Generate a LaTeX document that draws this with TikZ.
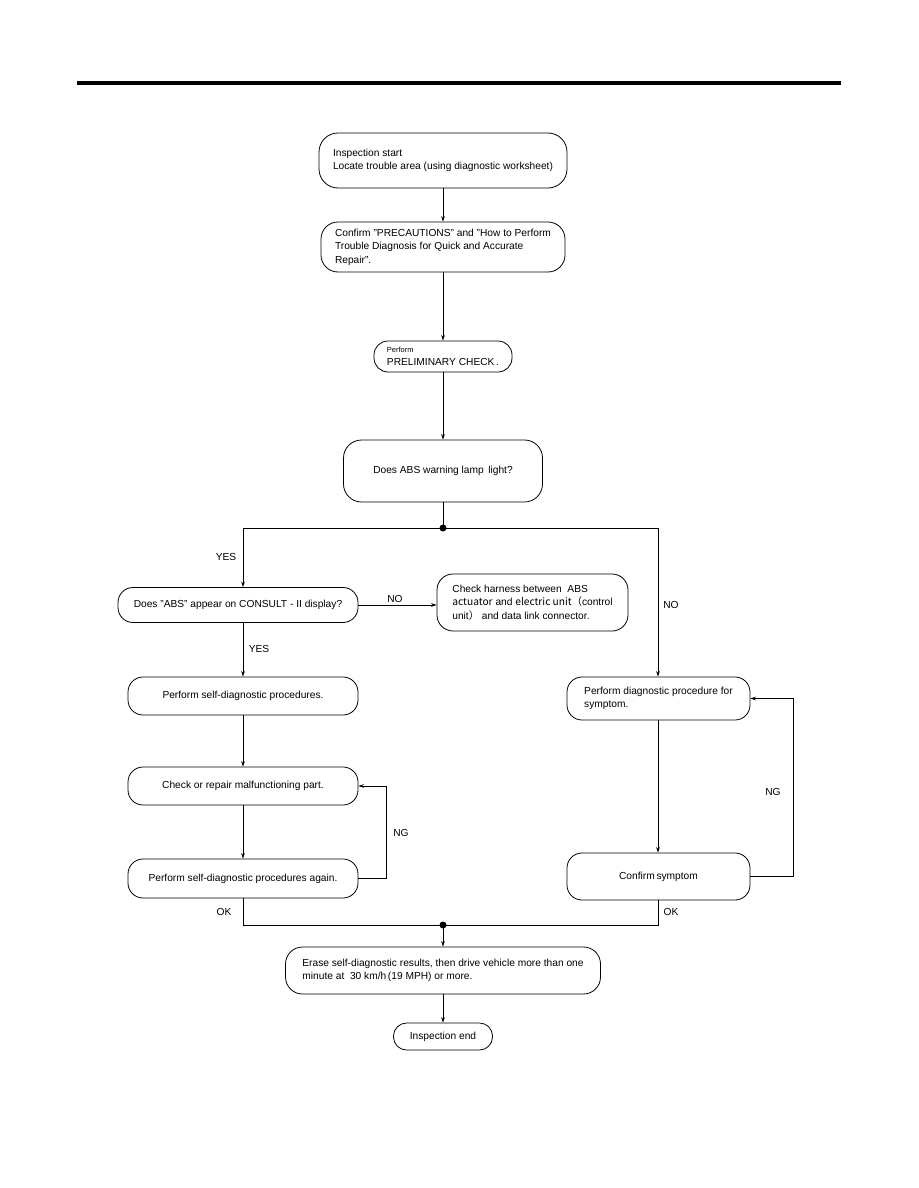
\documentclass[tikz,border=0pt]{standalone}
\usepackage{fontspec}
\setmainfont{Liberation Sans}
\newfontfamily\cjk{Noto Sans CJK JP}
\usetikzlibrary{arrows.meta}
\begin{document}
\begin{tikzpicture}[x=1pt,y=-1pt,
  box/.style={draw, line width=0.8pt, rounded corners=15pt, align=left,
    font=\fontsize{10.2}{13.5}\selectfont, inner sep=0pt},
  cbox/.style={box, align=center},
  arr/.style={-{Stealth[length=5.5pt,width=3.6pt]}, line width=0.7pt},
  ln/.style={line width=0.7pt},
  lbl/.style={font=\fontsize{10.2}{12}\selectfont, inner sep=0pt},
  jdot/.style={circle, fill, inner sep=0pt, minimum size=7pt}
]
\useasboundingbox (0,0) rectangle (918,1188);
\draw[line width=4pt] (77,83) -- (841,83);
\coordinate (cL) at (243,0);
\coordinate (cR) at (658,0);

\node[box, rounded corners=19pt, minimum width=248, minimum height=55] (b1) at (443,160.5)
  {Inspection start\\Locate trouble area (using diagnostic worksheet)};
\node[box, rounded corners=17pt, minimum width=244, minimum height=50] (b2) at (443,247)
  {Confirm "PRECAUTIONS" and "How to Perform\\Trouble Diagnosis for Quick and Accurate\\Repair".};
\node[box, rounded corners=14pt, minimum width=138, minimum height=31] (b3) at (443,356.5)
  {{\fontsize{7.5}{9}\selectfont Perform}\\PRELIMINARY CHECK\,.};
\node[cbox, rounded corners=18pt, minimum width=199, minimum height=62] (b4) at (443,471)
  {Does ABS warning lamp \,light?};
\node[jdot] (d1) at (443,528) {};

\node[cbox, minimum width=240, minimum height=35] (b5) at (238,605)
  {Does "ABS" appear on CONSULT - II display?};
\node[box, rounded corners=16pt, minimum width=191, minimum height=57] (b6) at (532.5,602.5)
  {Check harness between \ ABS\\{\cjk actuator} and {\cjk electric unit}{\cjk （}control\\unit{\cjk ）} and data link connector.};
\node[cbox, minimum width=230, minimum height=38] (b7) at (243,696)
  {Perform self-diagnostic procedures.};
\node[cbox, minimum width=230, minimum height=38] (b8) at (243,786)
  {Check or repair malfunctioning part.};
\node[cbox, minimum width=230, minimum height=39] (b9) at (243,878.5)
  {Perform self-diagnostic procedures again.};

\node[box, minimum width=183, minimum height=43] (r1) at (658.5,698.5)
  {Perform diagnostic procedure for\\symptom.};
\node[cbox, minimum width=183, minimum height=47] (r2) at (658.5,876.5)
  {Confirm\,symptom};

\node[jdot] (d2) at (443,925) {};
\node[box, rounded corners=17pt, minimum width=315, minimum height=47] (e1) at (443,970.5)
  {Erase self-diagnostic results, then drive vehicle more than one\\minute at \ 30 km/h\,(19 MPH) or more.};
\node[cbox, rounded corners=13pt, minimum width=99, minimum height=27] (e2) at (443,1036.5)
  {Inspection end};

% connectors
\draw[arr] (b1) -- (b2);
\draw[arr] (b2) -- (b3);
\draw[arr] (b3) -- (b4);
\draw[ln] (b4) -- (d1.center);
\draw[arr] (d1.center) -| (b5.north -| cL);
\draw[arr] (d1.center) -| (r1.north -| cR);
\draw[arr] (b5.east) -- (b6.west |- b5.east);
\draw[arr] (b5.south -| cL) -- (b7.north);
\draw[arr] (b7) -- (b8);
\draw[arr] (b8) -- (b9);
\draw[arr] (b9.east) -- ++(28,0) |- (b8.east);
\draw[arr] (r1.south -| cR) -- (r2.north -| cR);
\draw[arr] (r2.east) -- ++(43,0) |- (r1.east);
\draw[ln] (b9.south) |- (d2.center);
\draw[ln] (r2.south -| cR) |- (d2.center);
\draw[arr] (d2.center) -- (e1);
\draw[arr] (e1) -- (e2);

% labels
\node[lbl] (lyes1) at (226,557) {YES};
\node[lbl] (lno1) at (671,605) {NO};
\node[lbl] (lno2) at (395,599) {NO};
\node[lbl] (lyes2) at (259,649) {YES};
\node[lbl] (lng1) at (401,833) {NG};
\node[lbl] (lng2) at (773,792) {NG};
\node[lbl] (lok1) at (224,912) {OK};
\node[lbl] (lok2) at (671,912) {OK};
\end{tikzpicture}
\end{document}
